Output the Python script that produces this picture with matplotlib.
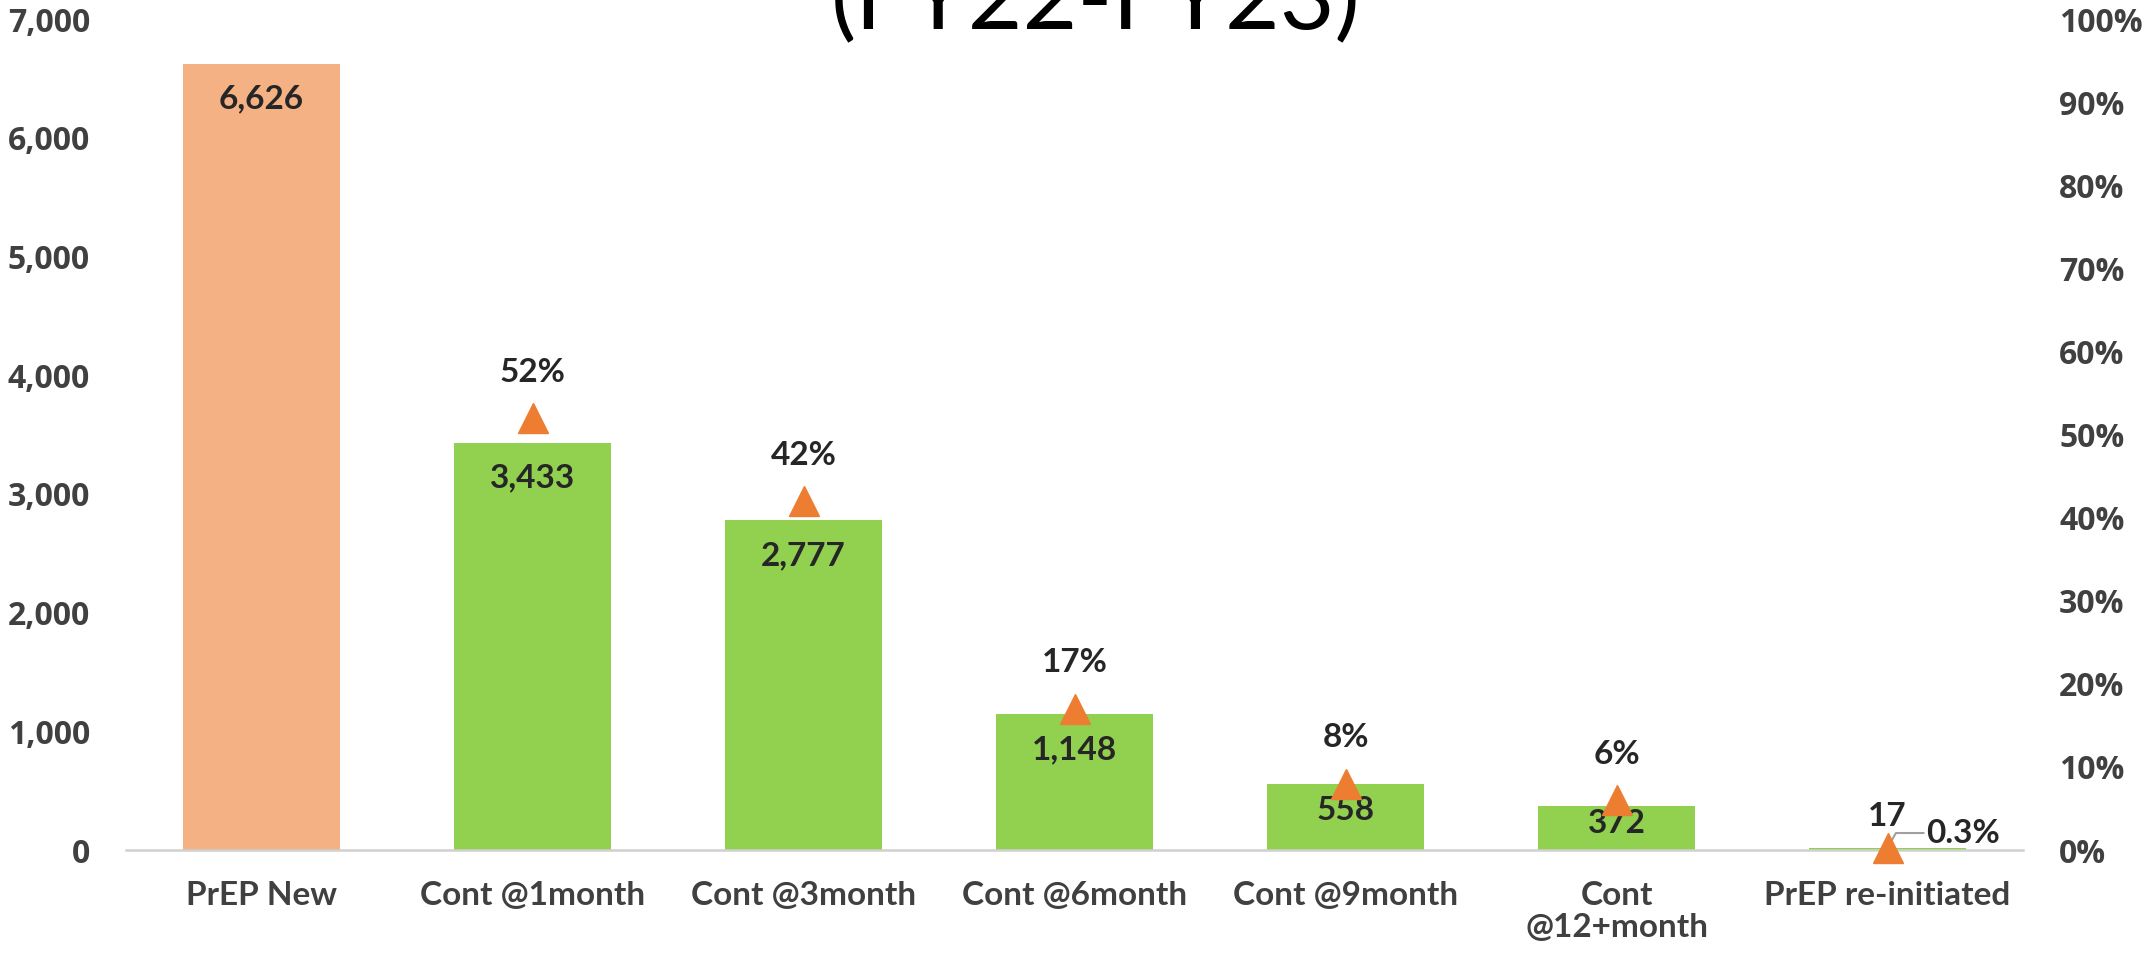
import numpy as np
import matplotlib.pyplot as plt
from matplotlib.ticker import FuncFormatter

categories = ["PrEP New", "Cont @1month", "Cont @3month", "Cont @6month",
              "Cont @9month", "Cont\n@12+month", "PrEP re-initiated"]
counts = [6626, 3433, 2777, 1148, 558, 372, 17]
pct = [None, 52, 42, 17, 8, 6, 0.3]
pct_labels = [None, "52%", "42%", "17%", "8%", "6%", "0.3%"]
bar_colors = ["#F4B183", "#92D050", "#92D050", "#92D050", "#92D050", "#92D050", "#92D050"]

lab_font = "Lato"
tick_font = "Open Sans"

fig = plt.figure(figsize=(21.44, 9.61), dpi=100)
ax = fig.add_axes([0.0588, 0.1155, 0.8848, 0.8645])
ax2 = ax.twinx()

x = np.arange(len(categories))
bars = ax.bar(x, counts, width=0.58, color=bar_colors, zorder=2)
ax.set_xlim(-0.5, 6.5)
ax.set_ylim(0, 7000)
ax.set_yticks(np.arange(0, 7001, 1000))
ax.yaxis.set_major_formatter(FuncFormatter(lambda v, p: f"{int(v):,}"))
ax2.set_ylim(0, 1)
ax2.set_yticks(np.arange(0, 1.01, 0.1))
ax2.yaxis.set_major_formatter(FuncFormatter(lambda v, p: f"{v*100:.0f}%"))

for a in (ax, ax2):
    for s in a.spines.values():
        s.set_visible(False)
ax.spines["bottom"].set_visible(True)
ax.spines["bottom"].set_color("#D0D0D0")
ax.spines["bottom"].set_linewidth(1.8)

ax.tick_params(axis="y", length=0, pad=26, labelsize=23, labelcolor="#404040")
ax2.tick_params(axis="y", length=0, pad=26, labelsize=23, labelcolor="#404040")
for t in ax.get_yticklabels() + ax2.get_yticklabels():
    t.set_fontfamily(tick_font)
    t.set_fontweight("bold")

ax.set_xticks(x)
ax.set_xticklabels(categories, fontfamily=lab_font, fontweight="bold",
                   fontsize=24, color="#404040", linespacing=1.15)
ax.tick_params(axis="x", length=0, pad=22)

# value labels on bars
for i, v in enumerate(counts):
    if v < 100:
        ax.annotate(f"{v:,}", (x[i], v), xytext=(0, 12), textcoords="offset points",
                    ha="center", va="bottom", fontsize=24, fontweight="bold",
                    fontfamily=lab_font, color="#262626", zorder=5)
    else:
        ypos = max(v - 300, v * 0.6)
        ax.text(x[i], ypos, f"{v:,}", ha="center", va="center", fontsize=24,
                fontweight="bold", fontfamily=lab_font, color="#262626", zorder=5)

# percentage markers
px = [x[i] for i in range(len(pct)) if pct[i] is not None]
py = [pct[i] / 100 for i in range(len(pct)) if pct[i] is not None]
ax2.plot(px, py, linestyle="none", marker="^", markersize=21,
         color="#ED7D31", clip_on=False, zorder=4)
for i in range(len(pct)):
    if pct[i] is None:
        continue
    if i == len(pct) - 1:
        ax2.annotate(pct_labels[i], (x[i], pct[i] / 100), xytext=(28, 0),
                     textcoords="offset points", ha="left", va="bottom",
                     fontsize=24, fontweight="bold", fontfamily=lab_font,
                     color="#262626",
                     arrowprops=dict(arrowstyle="-", color="#A0A0A0", lw=1.5,
                                     connectionstyle="angle,angleA=0,angleB=60,rad=0",
                                     shrinkA=0, shrinkB=0))
    else:
        ax2.annotate(pct_labels[i], (x[i], pct[i] / 100), xytext=(0, 33),
                     textcoords="offset points", ha="center", va="center",
                     fontsize=24, fontweight="bold", fontfamily=lab_font,
                     color="#262626")

# title, mostly cut off at the top of the slide
fig.text(0.511, 0.969, "(FY22-FY23)", ha="center", va="baseline",
         fontsize=68, fontfamily=lab_font, color="#000000")

fig.savefig("out.png", dpi=100)
